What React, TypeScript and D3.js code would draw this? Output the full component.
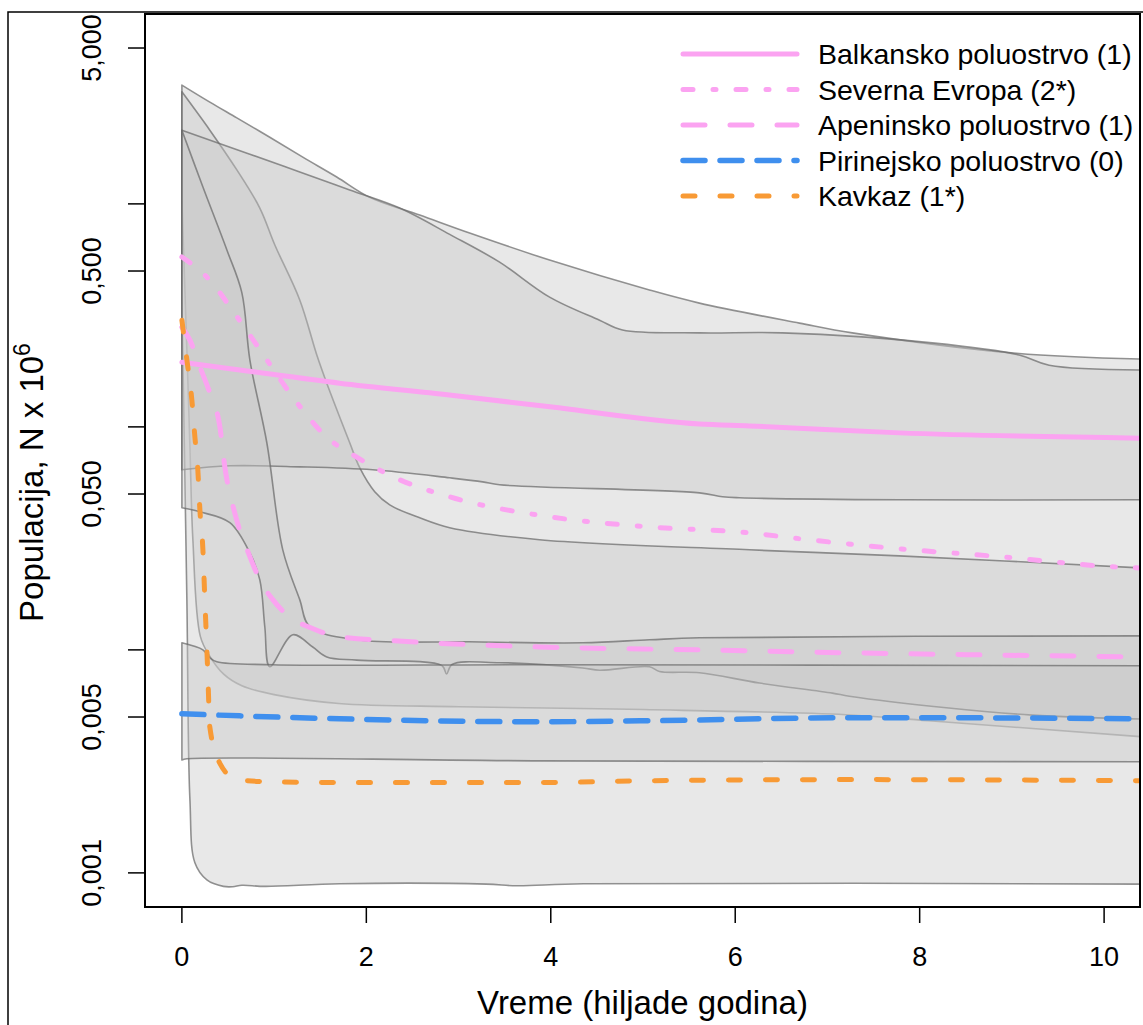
import React from 'react';
import * as d3 from 'd3';

type Pt = [number, number];

// ---------- axis ticks ----------
const xTickValues = [0, 2, 4, 6, 8, 10];
const yTickValues = [5, 1, 0.5, 0.1, 0.05, 0.01, 0.005, 0.001];
const yLabelValues = [5, 0.5, 0.05, 0.005, 0.001];
const yLabelTexts = ['5,000', '0,500', '0,050', '0,005', '0,001'];

// ---------- legend ----------
const seriesNames = [
  'Balkansko poluostrvo (1)',
  'Severna Evropa (2*)',
  'Apeninsko poluostrvo (1)',
  'Pirinejsko poluostrvo (0)',
  'Kavkaz (1*)',
];

// ---------- medians (time in thousands of years, N x 10^6) ----------
const balkanMedian: Pt[] = [
  [0, 0.195], [0.63, 0.18], [1.71, 0.157], [2.9, 0.139], [3.99, 0.123],
  [5.61, 0.103], [6.15, 0.101], [7.78, 0.094], [10.4, 0.089],
];
const severnaMedian: Pt[] = [
  [0, 0.578], [0.27, 0.47], [0.6, 0.311], [0.92, 0.2], [1.25, 0.128], [1.57, 0.09],
  [1.9, 0.073], [2.36, 0.058], [2.9, 0.0486], [3.99, 0.0395], [5.07, 0.0356],
  [6.15, 0.0335], [6.7, 0.0315], [7.78, 0.0284], [8.86, 0.0262], [10.09, 0.0236], [10.4, 0.0233],
];
const apeninMedian: Pt[] = [
  [0, 0.28], [0.087, 0.245], [0.195, 0.186], [0.303, 0.142], [0.412, 0.1], [0.466, 0.066],
  [0.574, 0.041], [0.737, 0.0262], [0.845, 0.0206], [0.986, 0.0168], [1.17, 0.014],
  [1.39, 0.0126], [1.71, 0.01145], [2.44, 0.0109], [3.88, 0.0103], [5.61, 0.01],
  [7.24, 0.0097], [10.4, 0.0093],
];
const pirinMedian: Pt[] = [
  [0, 0.00517], [0.63, 0.00506], [1.71, 0.00491], [3.88, 0.00476], [5.07, 0.00481],
  [7.24, 0.00496], [8.14, 0.00496], [10.4, 0.00491],
];
const kavkazMedian: Pt[] = [
  [0, 0.301], [0.054, 0.2], [0.108, 0.132], [0.141, 0.09], [0.173, 0.064], [0.195, 0.0425],
  [0.228, 0.0281], [0.249, 0.0168], [0.271, 0.01], [0.282, 0.0076], [0.303, 0.0045],
  [0.412, 0.0031], [0.596, 0.00262], [0.986, 0.00256], [1.71, 0.00254], [3.88, 0.00254],
  [5.07, 0.00259], [7.24, 0.00262], [10.4, 0.00259],
];

// ---------- 95% HPD bands (upper / lower edges) ----------
const band1Upper: Pt[] = [
  [0, 3.41], [0.303, 2.86], [0.596, 2.43], [0.953, 1.99], [1.311, 1.62], [1.679, 1.32],
  [2.037, 1.07], [2.579, 0.891], [3.12, 0.74], [3.987, 0.56], [5.07, 0.411], [5.612, 0.359],
  [6.696, 0.292], [7.27, 0.264], [9.047, 0.214], [10.4, 0.2015],
];
const band1Lower: Pt[] = [
  [0, 1.04], [0.054, 0.221], [0.087, 0.0817], [0.119, 0.0312], [0.2, 0.0115], [0.3, 0.0094],
  [0.45, 0.0078], [0.65, 0.0069], [1.0, 0.0063], [1.7, 0.00575], [3.0, 0.00556],
  [5.0, 0.0054], [7.2, 0.00512], [8.1, 0.00481], [10.4, 0.00408],
];
const band2Upper: Pt[] = [
  [0, 3.18], [0.303, 2.14], [0.596, 1.42], [0.845, 0.958], [1.008, 0.654], [1.278, 0.371],
  [1.463, 0.21], [1.571, 0.157], [1.82, 0.0849], [1.928, 0.0656], [2.091, 0.0512],
  [2.254, 0.0447], [2.579, 0.0391], [2.904, 0.0353], [3.879, 0.0312], [6.154, 0.0281],
  [7.779, 0.0264], [10.4, 0.0233],
];
const band2Lower: Pt[] = [
  [0, 0.37], [0.054, 0.0168], [0.087, 0.00213], [0.141, 0.00111], [0.271, 0.00093],
  [0.45, 0.00087], [0.553, 0.000867], [0.65, 0.00088], [0.9, 0.00087], [1.712, 0.000894],
  [3.3, 0.00089], [3.63, 0.000875], [4.35, 0.000894], [10.4, 0.00089],
];
const band3Upper: Pt[] = [
  [0, 2.14], [0.737, 1.67], [1.278, 1.39], [1.82, 1.154], [2.362, 0.958], [2.904, 0.73],
  [3.445, 0.548], [3.987, 0.382], [4.529, 0.301], [4.778, 0.272], [5.612, 0.264],
  [6.511, 0.264], [8.136, 0.238], [9.079, 0.21], [9.404, 0.189], [10.4, 0.18],
];
const band3Lower: Pt[] = [
  [0, 0.0642], [0.52, 0.0669], [1.278, 0.0662], [2.069, 0.0642], [2.904, 0.0591],
  [3.261, 0.0567], [3.445, 0.055], [5.612, 0.0506], [5.862, 0.0486], [6.046, 0.0481],
  [7.779, 0.0471], [10.4, 0.0471],
];
const band4Upper: Pt[] = [
  [0, 2.14], [0.228, 1.19], [0.488, 0.621], [0.65, 0.4], [0.737, 0.2], [0.921, 0.0849],
  [1.094, 0.0281], [1.278, 0.0168], [1.387, 0.0127], [1.896, 0.0111], [3.12, 0.01087],
  [4.345, 0.01076], [5.07, 0.0111], [5.612, 0.01133], [10.4, 0.01156],
];
const band4Lower: Pt[] = [
  [0, 0.0434], [0.195, 0.0416], [0.52, 0.0372], [0.737, 0.0272], [0.845, 0.0206],
  [0.899, 0.0127], [0.953, 0.0084], [1.203, 0.0117], [1.419, 0.0103], [1.571, 0.0093],
  [1.896, 0.009], [2.82, 0.0085], [2.87, 0.0078], [2.93, 0.0086], [3.445, 0.00876],
  [4.345, 0.0083], [4.529, 0.0081], [5.07, 0.0084], [5.179, 0.008], [5.612, 0.0079],
  [6.262, 0.0071], [7.053, 0.0064], [7.237, 0.0062], [8.288, 0.0055], [9.22, 0.0051],
  [10.4, 0.0049],
];
const band5Upper: Pt[] = [
  [0, 0.01076], [0.228, 0.01], [0.303, 0.00922], [0.379, 0.00884], [0.986, 0.00858],
  [3.879, 0.00858], [10.4, 0.00849],
];
const band5Lower: Pt[] = [
  [0, 0.00321], [0.054, 0.00325], [3.879, 0.00318], [10.4, 0.00315],
];

const bandUppers = [band1Upper, band2Upper, band3Upper, band4Upper, band5Upper];
const bandLowers = [band1Lower, band2Lower, band3Lower, band4Lower, band5Lower];
const medians = [balkanMedian, severnaMedian, apeninMedian, pirinMedian, kavkazMedian];

// ---------- styles ----------
const lineColors = ['#fba3f1', '#fba3f1', '#fba3f1', '#3f8fee', '#f89a35'];
const lineDashes = ['', '10 20 3 20', '22 25', '22 15', '12 25'];
const lineWidths = [5, 5, 5, 5.5, 5];

export default function App() {
  const W = 1143;
  const H = 1025;
  const L = 145;
  const R = 1140;
  const T = 14;
  const B = 907;
  const font = "'Liberation Sans', Arial, Helvetica, sans-serif";

  const x = d3.scaleLinear().domain([-0.4, 10.4]).range([145, 1141]);
  const y = d3.scaleLog().domain([Math.pow(10, -3.153), Math.pow(10, 0.8515)]).range([B, T]);

  const edge = d3
    .line<Pt>()
    .x((d) => x(d[0]))
    .y((d) => y(d[1]))
    .curve(d3.curveCatmullRom.alpha(0.5));
  const bandPath = (up: Pt[], lo: Pt[]) =>
    (edge(up) as string) + (edge([...lo].reverse()) as string).replace(/^M/, 'L') + 'Z';
  const medLine = d3
    .line<Pt>()
    .x((d) => x(d[0]))
    .y((d) => y(d[1]))
    .curve(d3.curveMonotoneX);

  const legendY = (i: number) => 54 + i * 35.5;

  return (
    <svg
      width={W}
      height={H}
      style={{ position: 'absolute', left: 0, top: 0, background: '#fff' }}
      fontFamily={font}
    >
      <defs>
        <clipPath id="plotClip">
          <rect x={L} y={T} width={R - L} height={B - T} />
        </clipPath>
      </defs>
      <rect x={0} y={0} width={W} height={H} fill="#fff" />
      <path d={`M8,${H} V12 H${W}`} fill="none" stroke="#000" strokeWidth={1.5} />

      <g clipPath="url(#plotClip)">
        {bandUppers.map((up, i) => (
          <path
            key={'b' + i}
            d={bandPath(up, bandLowers[i])}
            fill="#c8c8c8"
            fillOpacity={0.42}
            stroke="#6a6a6a"
            strokeOpacity={0.72}
            strokeWidth={1.6}
            strokeLinejoin="round"
          />
        ))}
        {medians.map((m, i) => (
          <path
            key={'m' + i}
            d={medLine(m) as string}
            fill="none"
            stroke={lineColors[i]}
            strokeWidth={lineWidths[i]}
            strokeDasharray={lineDashes[i] || undefined}
            strokeLinecap="round"
          />
        ))}
      </g>

      {/* legend */}
      {seriesNames.map((name, i) => (
        <g key={'l' + i}>
          <line
            x1={683}
            x2={797}
            y1={legendY(i)}
            y2={legendY(i)}
            stroke={lineColors[i]}
            strokeWidth={lineWidths[i]}
            strokeDasharray={lineDashes[i] || undefined}
            strokeLinecap="round"
          />
          <text x={818} y={legendY(i) + 10} fontSize={28.5} fill="#000">
            {name}
          </text>
        </g>
      ))}

      {/* plot box */}
      <rect x={L} y={T} width={R - L} height={B - T} fill="none" stroke="#000" strokeWidth={2} />

      {/* x axis */}
      {xTickValues.map((v) => (
        <g key={'x' + v}>
          <line x1={x(v)} x2={x(v)} y1={B} y2={B + 16} stroke="#000" strokeWidth={1.5} />
          <text x={x(v)} y={966} fontSize={27} textAnchor="middle" fill="#000">
            {String(v)}
          </text>
        </g>
      ))}
      <text x={(L + R) / 2} y={1014} fontSize={33} textAnchor="middle" fill="#000">
        Vreme (hiljade godina)
      </text>

      {/* y axis */}
      {yTickValues.map((v) => (
        <line key={'y' + v} x1={L - 17} x2={L} y1={y(v)} y2={y(v)} stroke="#000" strokeWidth={1.5} />
      ))}
      {yLabelValues.map((v, i) => (
        <text
          key={'yl' + v}
          transform={`translate(101,${y(v)}) rotate(-90)`}
          fontSize={27}
          textAnchor="middle"
          fill="#000"
        >
          {yLabelTexts[i]}
        </text>
      ))}
      <text transform={`translate(43,${(T + B) / 2 + 22}) rotate(-90)`} fontSize={33} textAnchor="middle" fill="#000">
        Populacija, N x 10
        <tspan dy={-13} fontSize={23}>
          6
        </tspan>
      </text>
    </svg>
  );
}
